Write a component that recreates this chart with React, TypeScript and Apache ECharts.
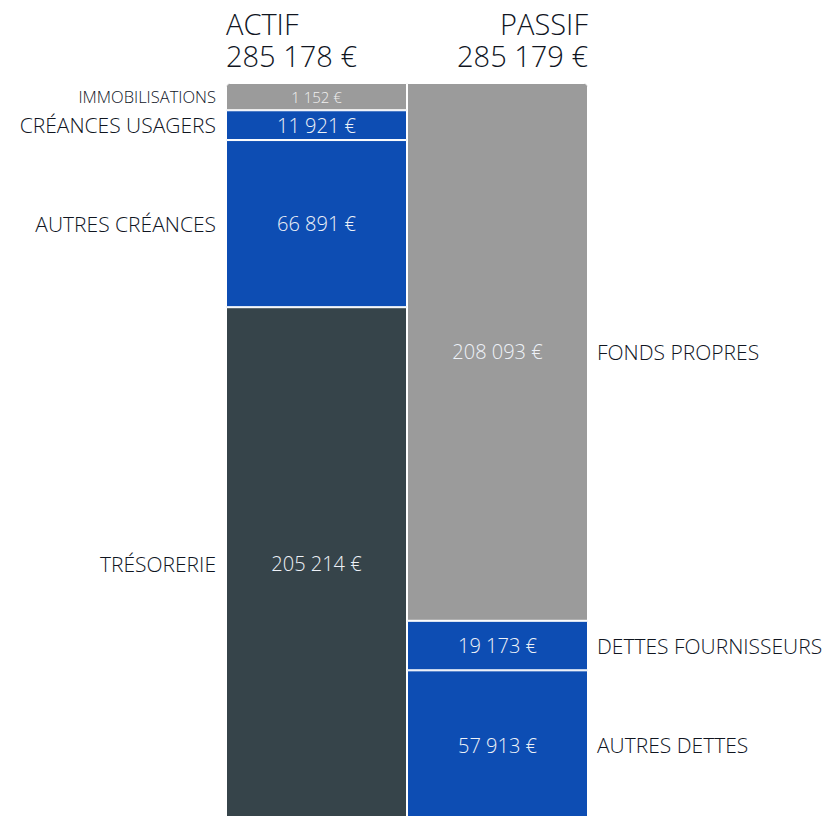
import React, { useEffect, useRef } from "react";
import * as echarts from "echarts";

const actifNames = ["IMMOBILISATIONS", "CRÉANCES USAGERS", "AUTRES CRÉANCES", "TRÉSORERIE"];
const actifValues = [1152, 11921, 66891, 205214];
const actifColors = ["#9b9b9b", "#0d4db3", "#0d4db3", "#36444a"];

const passifNames = ["FONDS PROPRES", "DETTES FOURNISSEURS", "AUTRES DETTES"];
const passifValues = [208093, 19173, 57913];
const passifColors = ["#9b9b9b", "#0d4db3", "#0d4db3"];

const columns = ["ACTIF", "PASSIF"];
const MIN_SHARE = 0.037;

const FONT = "'Open Sans', 'Noto Sans', sans-serif";
const TEXT = "#10151f";

const fmt = (n: number) => String(n).replace(/\B(?=(\d{3})+(?!\d))/g, " ") + " €";

function plotted(values: number[]) {
  const total = values.reduce((a, b) => a + b, 0);
  const small = values.filter((v) => v / total < MIN_SHARE);
  const restSum = values.filter((v) => v / total >= MIN_SHARE).reduce((a, b) => a + b, 0);
  const minVal = (MIN_SHARE * restSum) / (1 - MIN_SHARE * small.length);
  return values.map((v) => (v / total < MIN_SHARE ? minVal : v));
}

export default function App() {
  const ref = useRef<HTMLDivElement>(null);
  useEffect(() => {
    document.body.style.margin = "0";
    document.body.style.overflow = "hidden";
    document.documentElement.style.overflow = "hidden";
    const chart = echarts.init(ref.current!, null, { renderer: "svg" });
    const aPlot = plotted(actifValues);
    const pPlot = plotted(passifValues);
    const aMax = aPlot.reduce((a, b) => a + b, 0);
    const pMax = pPlot.reduce((a, b) => a + b, 0);
    const aTotal = actifValues.reduce((a, b) => a + b, 0);
    const pTotal = passifValues.reduce((a, b) => a + b, 0);

    const series: any[] = [];
    const build = (
      names: string[],
      values: number[],
      plot: number[],
      colors: string[],
      col: number,
      radius: number[]
    ) => {
      names.forEach((name, i) => {
        const small = plot[i] !== values[i];
        const d: any[] = ["-", "-"];
        d[col] = { value: plot[i], actual: values[i] };
        series.push({
          type: "bar",
          name,
          stack: "s" + col,
          yAxisIndex: col,
          barWidth: "100%",
          barGap: "-100%",
          data: d,
          itemStyle: {
            color: colors[i],
            borderColor: "#ffffff",
            borderWidth: 1,
            borderRadius: i === 0 ? radius : 0,
          },
          label: {
            show: true,
            position: "inside",
            formatter: (p: any) => fmt(p.data.actual),
            color: small ? "#f0f0f0" : "#eef2f8",
            fontFamily: FONT,
            fontWeight: 300,
            fontSize: small ? 15 : 20,
          },
        });
        const g: any[] = ["-", "-"];
        g[col] = { value: plot[i], actual: values[i] };
        series.push({
          type: "bar",
          name: name + " label",
          stack: "g" + col,
          yAxisIndex: col,
          barWidth: "100%",
          barGap: "-100%",
          data: g,
          silent: true,
          itemStyle: { color: "rgba(0,0,0,0)" },
          label: {
            show: true,
            position: col === 0 ? "left" : "right",
            distance: col === 0 ? 10 : 9,
            formatter: () => name,
            color: TEXT,
            fontFamily: FONT,
            fontWeight: 300,
            fontSize: small ? 16.5 : 21,
          },
        });
      });
    };
    build(actifNames, actifValues, aPlot, actifColors, 0, [3, 0, 0, 0]);
    build(passifNames, passifValues, pPlot, passifColors, 1, [0, 3, 0, 0]);

    const titleStyle = {
      fontFamily: FONT,
      fontWeight: 300,
      fontSize: 29,
      lineHeight: 31,
      fill: TEXT,
    };

    chart.setOption({
      animation: false,
      grid: { left: 226, right: 237, top: 83, bottom: 0 },
      xAxis: {
        type: "category",
        data: columns,
        show: false,
      },
      yAxis: [
        { type: "value", inverse: true, min: 0, max: aMax, show: false },
        { type: "value", inverse: true, min: 0, max: pMax, show: false },
      ],
      series,
      graphic: [
        { type: "text", left: 226, top: 8, style: { ...titleStyle, text: columns[0] } },
        { type: "text", left: 226, top: 40, style: { ...titleStyle, text: fmt(aTotal) } },
        { type: "text", right: 237, top: 8, style: { ...titleStyle, text: columns[1] } },
        { type: "text", right: 237, top: 40, style: { ...titleStyle, text: fmt(pTotal) } },
      ],
    });
    return () => chart.dispose();
  }, []);
  return <div ref={ref} style={{ width: 825, height: 820 }} />;
}
